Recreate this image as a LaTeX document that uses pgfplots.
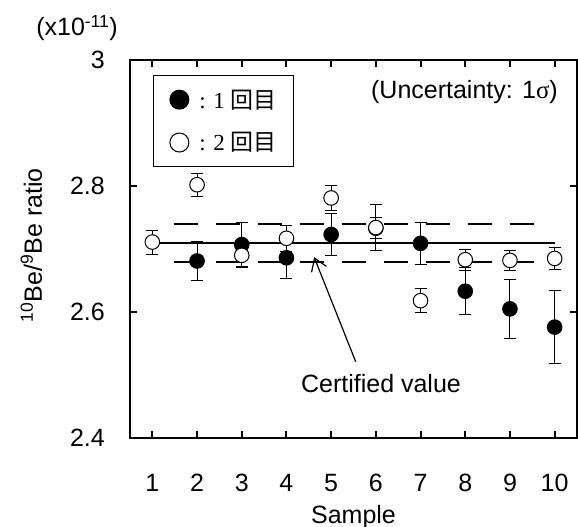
\documentclass[border=0pt]{standalone}
\usepackage{pgfplots}
\pgfplotsset{compat=1.18}
\usepackage{fontspec}
\setmainfont{Liberation Sans}
\newfontfamily\seriffont{Liberation Serif}
\newfontfamily\jpfont{Noto Sans CJK JP}
\usetikzlibrary{arrows.meta}

% first run (filled) and second run (open) of the 10Be/9Be measurements
\pgfplotstableread{
x  y      e
2  2.681  0.031
3  2.707  0.035
4  2.686  0.033
5  2.723  0.034
6  2.733  0.017
7  2.709  0.033
8  2.633  0.037
9  2.605  0.047
10 2.576  0.058
}\runone
\pgfplotstableread{
x  y      e
1  2.711  0.019
2  2.802  0.018
3  2.690  0.020
4  2.717  0.021
5  2.781  0.020
6  2.734  0.036
7  2.618  0.019
8  2.683  0.017
9  2.682  0.016
10 2.685  0.017
}\runtwo

\newcommand\bigfont{\fontsize{25bp}{30bp}\selectfont}
\newcommand\legfont{\fontsize{23bp}{27bp}\selectfont\seriffont}

\begin{document}
\begin{tikzpicture}
\begin{axis}[
  scale only axis, width=447bp, height=378bp,
  xmin=0.5, xmax=10.5, ymin=2.4, ymax=3.0,
  xtick={1,...,10}, ytick={2.4,2.6,2.8,3.0},
  tick align=inside, major tick length=7bp,
  axis line style={line width=2bp},
  every tick/.style={black, line width=2bp},
  /pgf/number format/assume math mode=true,
  tick label style={font=\bigfont},
  yticklabel style={anchor=east, inner sep=0pt, xshift=-25bp},
  xticklabel style={anchor=north, inner sep=0pt, yshift=-36bp},
  xlabel={Sample},
  every axis x label/.style={at={(rel axis cs:0.5,0)}, anchor=base, yshift=-85bp, font=\bigfont},
  ylabel={\textsuperscript{10}Be/\textsuperscript{9}Be ratio},
  every axis y label/.style={at={(rel axis cs:-0.197,0.51)}, anchor=base, rotate=90, font=\bigfont},
  legend style={at={(rel axis cs:0.051,0.96)}, anchor=north west, draw=black, line width=1.2bp,
    font=\legfont, inner xsep=16bp, inner ysep=13bp, row sep=21bp,
    nodes={inner sep=1bp}},
  legend cell align=left,
  error bars/error bar style={line width=1bp, black},
  error bars/error mark options={rotate=90, mark size=6bp, line width=1bp, black},
  clip=false,
]
% certified value and its range
\addplot[black, line width=2bp, forget plot] coordinates {(1,2.709) (10,2.709)};
\addplot[black, line width=2bp, dash pattern=on 24bp off 18bp, forget plot] coordinates {(1.48,2.739) (9.6,2.739)};
\addplot[black, line width=2bp, dash pattern=on 24bp off 18bp, forget plot] coordinates {(1.48,2.679) (9.6,2.679)};

\addplot[only marks, mark=*, mark size=7.3bp, mark options={fill=black, draw=black, line width=1bp},
  error bars/.cd, y dir=both, y explicit,
  /pgfplots/legend image code/.code={\filldraw[line width=1bp] (9.5bp,0bp) circle (9.5bp);}]
  table[x=x, y=y, y error=e] {\runone};
\addlegendentry{\hspace{9bp}: 1 {\jpfont 回目}\hspace{4bp}}

\addplot[only marks, mark=*, mark size=7.3bp, mark options={fill=white, draw=black, line width=1bp},
  error bars/.cd, y dir=both, y explicit,
  /pgfplots/legend image code/.code={\draw[line width=1bp, fill=white] (9.5bp,0bp) circle (9.5bp);}]
  table[x=x, y=y, y error=e] {\runtwo};
\addlegendentry{\hspace{9bp}: 2 {\jpfont 回目}\hspace{4bp}}

% exponent of the y scale, above the top-left corner
\node[font=\bigfont, anchor=base east, inner sep=0pt] at (rel axis cs:-0.027,1.0635) {(x10\textsuperscript{-11})};
\node[font=\bigfont, anchor=base east, inner sep=0pt] at (rel axis cs:0.9575,0.897) {(Uncertainty: 1{\seriffont σ})};
\node[font=\bigfont, anchor=base, inner sep=0pt] at (rel axis cs:0.5615,0.1198) {Certified value};
\draw[line width=1.2bp, -{Straight Barb[length=12bp, width=16bp, line width=1.2bp]}] (axis cs:5.55,2.521) -- (axis cs:4.62,2.687);
\end{axis}
\pgfresetboundingbox
\path[use as bounding box] (current axis.south west) ++(-130bp,-89bp) rectangle ++(578bp,527bp);
\end{tikzpicture}
\end{document}
